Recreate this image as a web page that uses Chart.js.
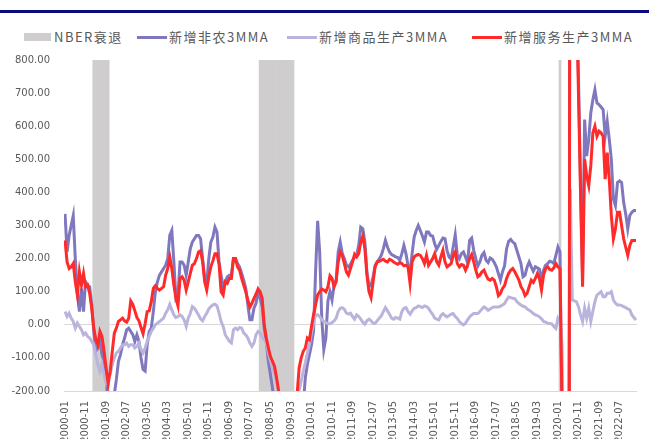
<!DOCTYPE html>
<html>
<head>
<meta charset="utf-8">
<script src="https://cdn.jsdelivr.net/npm/chart.js@4"></script>
<style>
  html, body { margin: 0; padding: 0; background: #fff; overflow: hidden; width: 649px; height: 439px; }
  #wrap { position: relative; width: 649px; height: 439px; overflow: hidden; }
  #topline { position: absolute; left: 0; top: 10px; width: 649px; height: 3px; background: #0b0b84; }
  canvas { position: absolute; left: 0; top: 0; }
  .sw { position: absolute; }
  .lt { position: absolute; top: 29px; font: 13px 'Noto Sans CJK SC', sans-serif; color: #595959;
        letter-spacing: 1.5px; line-height: 16px; white-space: nowrap; }
</style>
</head>
<body>
<div id="wrap">
  <div id="topline"></div>
  <div class="sw" style="left:24px;top:33px;width:27px;height:8px;background:#cfcdce"></div>
  <div class="lt" style="left:54px">NBER衰退</div>
  <div class="sw" style="left:137px;top:36px;width:30px;height:3px;background:#8078be"></div>
  <div class="lt" style="left:169px">新增非农3MMA</div>
  <div class="sw" style="left:287px;top:36px;width:30px;height:3px;background:#b9b4dc"></div>
  <div class="lt" style="left:319px">新增商品生产3MMA</div>
  <div class="sw" style="left:472px;top:36px;width:30px;height:3px;background:#ff2a2a"></div>
  <div class="lt" style="left:504px">新增服务生产3MMA</div>
  <canvas id="jobsChart" width="649" height="460"></canvas>
</div>
<script>
// months 2000-01 .. 2023-03
const startYear = 2000;
const monthCount = 279;
const months = [];
for (let k = 0; k < monthCount; k++) {
    const y = startYear + Math.floor(k / 12);
    const m = (k % 12) + 1;
    months.push(y + '-' + (m < 10 ? '0' + m : m));
}

// recession shading as drawn in the source
const nberPeriods = [['2001-03', '2001-10'], ['2007-12', '2009-04'], ['2020-02', '2020-02']];

// 新增非农 3MMA (thousand)
const totalNfp = [
    335, 220, 270, 300, 330, 200, 100, 40, 110, 40,
    130, 120, 115, 60, -20, -80, -70, -50, -90, -110,
    -160, -240, -300, -260, -210, -165, -110, -90, -60, -40,
    -15, -10, -20, -30, -50, -30, -50, -100, -135, -140,
    -60, -20, -10, 40, 100, 130, 150, 160, 170, 180,
    200, 270, 285, 190, 80, 90, 190, 190, 180, 150,
    190, 230, 250, 260, 270, 270, 260, 200, 140, 125,
    200, 250, 265, 295, 280, 190, 150, 115, 130, 145,
    150, 150, 200, 200, 185, 175, 155, 135, 110, 60,
    15, 15, 50, 65, 100, 80, 55, -10, -50, -110,
    -150, -190, -240, -300, -380, -480, -600, -680, -750, -760,
    -750, -700, -560, -460, -380, -320, -240, -160, -120, -90,
    -60, -20, 160, 314, 220, 20, -75, -40, 72, 100,
    75, 120, 135, 220, 250, 215, 200, 180, 175, 183,
    195, 205, 212, 240, 295, 290, 250, 160, 115, 120,
    145, 180, 190, 199, 210, 230, 255, 235, 220, 212,
    209, 205, 203, 195, 215, 240, 215, 180, 155, 215,
    265, 285, 300, 285, 268, 250, 280, 280, 270, 268,
    245, 228, 240, 252, 262, 260, 225, 205, 198, 235,
    272, 210, 200, 215, 220, 205, 188, 255, 262, 225,
    200, 178, 190, 210, 218, 195, 188, 202, 198, 188,
    175, 155, 135, 160, 178, 230, 252, 258, 250, 245,
    225, 205, 185, 145, 150, 175, 190, 175, 162, 175,
    172, 168, 135, 165, 180, 185, 192, 190, 185, 210,
    235, 220, -290, -7250, -6440, -4390, 3080, 2700, 1340, 1000,
    750, 430, 140, 620, 510, 560, 640, 680, 710, 670,
    665, 658, 650, 570, 615, 560, 500, 380, 360, 430,
    435, 430, 370, 335, 290, 330, 340, 345, 345
];

// 新增商品生产 3MMA
const goodsJobs = [
    40, 25, 35, 20, 10, -10, 5, -5, -15, -30,
    -25, -35, -40, -50, -60, -90, -120, -140, -120, -150,
    -175, -160, -150, -120, -100, -85, -80, -70, -60, -60,
    -55, -65, -60, -60, -70, -65, -55, -75, -85, -70,
    -50, -35, -20, -10, 0, 5, 10, 15, 20, 35,
    45, 62, 45, 30, 22, 25, 30, 25, 15, -5,
    20, 35, 55, 50, 40, 30, 18, 12, 25, 35,
    48, 55, 60, 62, 57, 35, 10, -5, -30, -40,
    -50, -55, -15, -10, -15, -8, -10, -25, -30, -40,
    -55, -65, -55, -30, -20, -25, -38, -45, -55, -85,
    -110, -130, -150, -170, -210, -280, -350, -420, -480, -500,
    -470, -400, -330, -260, -200, -170, -140, -115, -85, -60,
    -25, 5, 30, 30, 25, 15, 10, 7, 3, 3,
    7, 12, 20, 40, 50, 52, 47, 35, 32, 35,
    25, 17, 30, 25, 17, 8, 2, 12, 17, 12,
    5, 5, 12, 20, 27, 40, 52, 42, 32, 20,
    17, 22, 20, 17, 40, 50, 52, 40, 32, 42,
    50, 52, 57, 55, 52, 57, 55, 50, 40, 32,
    20, 17, 15, 28, 34, 28, 24, 28, 32, 34,
    25, 19, 10, 4, 0, 5, 15, 24, 30, 34,
    34, 34, 40, 48, 54, 50, 44, 48, 52, 54,
    54, 54, 56, 60, 64, 75, 84, 82, 80, 79,
    70, 64, 60, 56, 54, 48, 44, 40, 34, 30,
    28, 24, 18, 10, 8, 5, 4, 3, -5, -11,
    20, 10, -60, -800, -620, -410, 410, 75, 72, 70,
    55, 30, 10, 50, 20, 50, 10, 40, 70, 90,
    95, 100, 85, 85, 95, 95, 100, 75, 65, 60,
    60, 58, 55, 52, 48, 45, 30, 22, 14
];

// 新增服务生产 3MMA
const serviceJobs = [
    255, 190, 170, 175, 185, 130, 90, 160, 120, 155,
    115, 120, 95, 50, -10, -45, -60, -20, -35, -80,
    -130, -178, -140, -80, -25, -10, 10, 15, 20, 12,
    8, 20, 72, 62, 42, 22, 12, -8, -27, 3,
    40, 42, 70, 110, 118, 110, 105, 110, 115, 150,
    170, 205, 170, 120, 80, 57, 140, 145, 135, 105,
    130, 155, 180, 185, 200, 220, 224, 190, 130, 105,
    145, 175, 193, 215, 215, 183, 100, 90, 130, 125,
    140, 140, 200, 200, 175, 165, 140, 120, 100, 75,
    53, 65, 80, 93, 108, 100, 80, 0, -40, -70,
    -95, -110, -125, -160, -200, -260, -330, -380, -420, -420,
    -390, -340, -270, -210, -130, -100, -80, -70, -40, -45,
    -5, 30, 60, 90, 100, 108, 105, 100, 115, 148,
    140, 115, 130, 190, 220, 210, 185, 160, 150, 170,
    190, 213, 205, 215, 250, 268, 230, 150, 100, 82,
    130, 175, 190, 192, 195, 198, 192, 190, 198, 195,
    190, 186, 183, 188, 185, 178, 180, 175, 125, 190,
    205, 210, 213, 210, 200, 185, 210, 180, 190, 200,
    215, 190, 180, 205, 225, 190, 175, 180, 185, 210,
    220, 185, 175, 182, 180, 165, 180, 200, 212, 190,
    165, 145, 150, 160, 165, 150, 138, 135, 140, 135,
    115, 88, 95, 110, 118, 140, 155, 165, 170, 160,
    148, 135, 115, 105, 88, 95, 115, 135, 128, 140,
    155, 140, 105, 150, 170, 175, 167, 165, 172, 185,
    175, 170, -250, -6000, -5200, -3500, 2700, 2300, 1300, 1000,
    700, 400, 115, 500, 450, 420, 480, 580, 600, 570,
    585, 580, 570, 440, 520, 440, 330, 260, 290, 340,
    340, 300, 260, 235, 210, 240, 255, 255, 255
];

const yMin = -200, yMax = 800;

const nberBars = months.map(function (m) {
    for (const p of nberPeriods) {
        if (m >= p[0] && m <= p[1]) return [yMin, yMax];
    }
    return null;
});

const ctx = document.getElementById('jobsChart').getContext('2d');

const jobsChart = new Chart(ctx, {
    type: 'bar',
    data: {
        labels: months,
        datasets: [
            {
                type: 'line',
                label: '新增服务生产3MMA',
                data: serviceJobs,
                borderColor: '#ff2a2a',
                borderWidth: 3,
                pointRadius: 0,
                tension: 0,
                clip: 0,
                order: 1
            },
            {
                type: 'line',
                label: '新增商品生产3MMA',
                data: goodsJobs,
                borderColor: '#b9b4dc',
                borderWidth: 3,
                pointRadius: 0,
                tension: 0,
                clip: 0,
                order: 2
            },
            {
                type: 'line',
                label: '新增非农3MMA',
                data: totalNfp,
                borderColor: '#8078be',
                borderWidth: 3,
                pointRadius: 0,
                tension: 0,
                clip: 0,
                order: 3
            },
            {
                type: 'bar',
                label: 'NBER衰退',
                data: nberBars,
                backgroundColor: '#cfcdce',
                borderWidth: 0,
                barPercentage: 1,
                categoryPercentage: 1,
                order: 4
            }
        ]
    },
    options: {
        responsive: false,
        animation: false,
        layout: {
            padding: { top: 60, right: 12, left: 0, bottom: 0 }
        },
        plugins: {
            legend: { display: false },
            tooltip: { enabled: false }
        },
        scales: {
            x: {
                offset: true,
                grid: { display: false, drawTicks: false },
                border: { display: false },
                ticks: {
                    autoSkip: false,
                    minRotation: 90,
                    maxRotation: 90,
                    padding: 10,
                    color: '#595959',
                    font: { family: 'DejaVu Sans', size: 10 },
                    callback: function (val, idx) {
                        return idx % 10 === 0 ? months[idx] : '';
                    }
                },
                afterFit: function (scale) {
                    scale.height = 69;
                    scale.paddingLeft = 0;
                    scale.paddingRight = 0;
                }
            },
            y: {
                min: yMin,
                max: yMax,
                border: { display: false },
                grid: {
                    drawTicks: false,
                    color: function (c) {
                        return (c.tick && (c.tick.value === 0 || c.tick.value === yMin)) ? '#d9d9d9' : 'rgba(0,0,0,0)';
                    }
                },
                ticks: {
                    stepSize: 100,
                    padding: 14,
                    color: '#595959',
                    font: { family: 'DejaVu Sans', size: 10 },
                    callback: function (v) { return v.toFixed(2); }
                },
                afterFit: function (scale) { scale.width = 64; }
            }
        }
    }
});
</script>
</body>
</html>
